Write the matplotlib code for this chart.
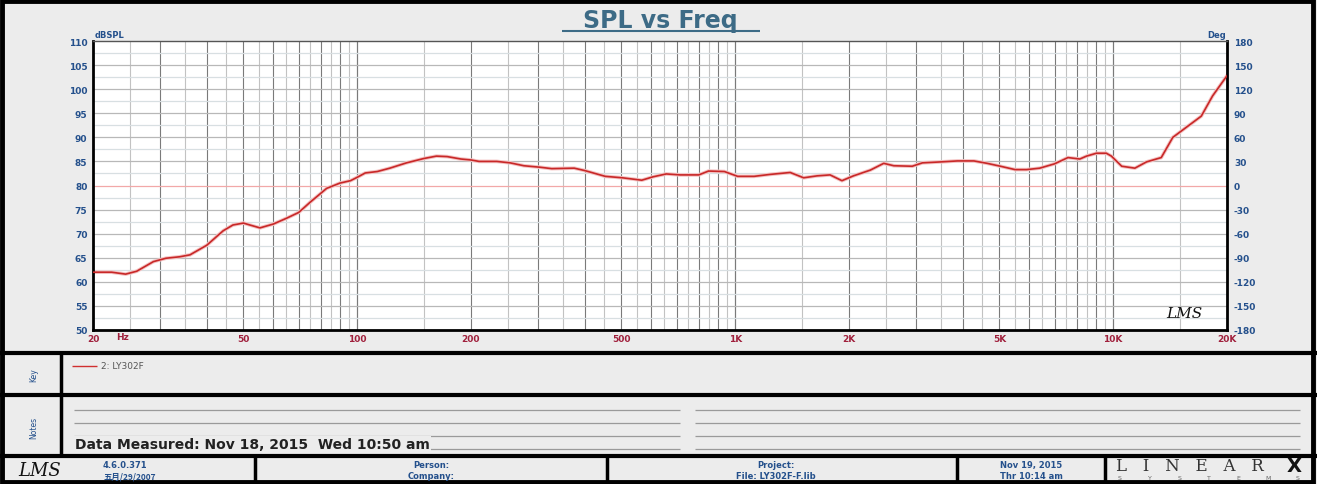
import numpy as np
import matplotlib.pyplot as plt
from matplotlib.patches import Rectangle

# SPL curve (Hz, dBSPL)
freq = [20, 22.4, 24.4, 26.1, 28.9, 31.2, 33.9, 36.1, 40, 44.2, 46.9, 50, 52, 55.3,
        60, 65, 70, 75, 83, 90, 96, 100, 105, 113, 122, 135, 150, 162, 173, 188,
        200, 210, 234, 254, 276, 304, 327, 375, 400, 453, 503, 566, 606, 657, 715,
        801, 850, 936, 1015, 1122, 1236, 1398, 1517, 1646, 1782, 1916, 2055, 2278,
        2471, 2628, 2940, 3127, 3498, 3870, 4280, 4640, 5030, 5500, 5900, 6390,
        6995, 7590, 8160, 8500, 9030, 9590, 9890, 10530, 11410, 12250, 13400,
        14380, 15620, 17100, 18320, 20000]
spl = [62.0, 62.0, 61.6, 62.2, 64.2, 64.9, 65.2, 65.6, 67.6, 70.6, 71.8, 72.2, 71.8, 71.2,
       72.0, 73.2, 74.4, 76.5, 79.4, 80.5, 81.0, 81.7, 82.6, 82.9, 83.6, 84.7, 85.6, 86.1,
       86.0, 85.5, 85.3, 85.0, 85.0, 84.7, 84.1, 83.8, 83.5, 83.6, 83.1, 81.9, 81.6, 81.1,
       81.8, 82.4, 82.2, 82.2, 83.0, 82.9, 81.9, 81.9, 82.3, 82.7, 81.6, 82.0, 82.2, 81.0,
       82.0, 83.2, 84.6, 84.1, 84.0, 84.7, 84.9, 85.1, 85.1, 84.6, 84.0, 83.3, 83.3, 83.6,
       84.5, 85.8, 85.5, 86.1, 86.7, 86.7, 86.1, 84.0, 83.6, 84.9, 85.8, 90.0, 92.1, 94.4,
       98.6, 102.8]

x_ticks = [20, 50, 100, 200, 500, 1000, 2000, 5000, 10000, 20000]
x_labels = ["20", "50", "100", "200", "500", "1K", "2K", "5K", "10K", "20K"]
db_ticks = list(range(50, 111, 5))
deg_ticks = list(range(-180, 181, 30))

W, H = 1317, 485
blue = "#24508c"
tick_red = "#a0203c"
panel = "#ececec"

fig = plt.figure(figsize=(W / 100, H / 100), dpi=100)
fig.patch.set_facecolor(panel)

# full-figure axes in pixel coords for the frame / panels
bg = fig.add_axes([0, 0, 1, 1], zorder=0)
bg.set_xlim(0, W)
bg.set_ylim(H, 0)
bg.axis("off")

def hline(y, x0, x1, **kw):
    bg.plot([x0, x1], [y, y], solid_capstyle="butt", **kw)

def vline(x, y0, y1, **kw):
    bg.plot([x, x], [y0, y1], solid_capstyle="butt", **kw)

# outer frame and separators
bg.add_patch(Rectangle((2, 2), W - 6, H - 4, fill=False, lw=3.5, ec="black"))
hline(354, 0, W, color="black", lw=3)
hline(396, 0, W, color="black", lw=3)
hline(457, 0, W, color="black", lw=3)
vline(61, 354, 457, color="black", lw=2.5)
for xd in [255, 607, 957, 1105]:
    vline(xd, 457, H, color="black", lw=2.5)

# title
bg.text(660, 21, "SPL vs Freq", ha="center", va="center", fontsize=17,
        weight="bold", color="#3d6b86")
hline(32, 562, 760, color="#3d6b86", lw=1.5)

bg.text(95, 35, "dBSPL", ha="left", va="center", fontsize=6, weight="bold", color=blue)
bg.text(1226, 35, "Deg", ha="right", va="center", fontsize=6, weight="bold", color=blue)
bg.text(116, 338, "Hz", ha="left", va="center", fontsize=6.5, weight="bold", color=tick_red)

# main plot
ax = fig.add_axes([93 / W, (H - 331) / H, (1227 - 93) / W, (331 - 42) / H], zorder=1)
ax.set_facecolor("white")
ax.set_xscale("log")
ax.set_xlim(20, 20000)
ax.set_ylim(50, 110)

for dec in [10, 100, 1000, 10000]:
    for k in range(2, 21):
        f = k * dec / 2
        if 20 < f < 20000:
            ax.axvline(f, color="#7a7a7a" if k % 2 == 0 else "#c2c2c2", lw=0.8, zorder=1)
for v in np.arange(52.5, 110, 2.5):
    if abs(v - 80) < 0.01:
        c = "#f2a8a8"
    elif v % 5 == 0:
        c = "#b8b8b8"
    else:
        c = "#d8dfe2"
    ax.axhline(v, color=c, lw=0.9, zorder=1)

ax.plot(freq, spl, color="#f4c2c2", lw=2.6, zorder=2, solid_joinstyle="round")
ax.plot(freq, spl, color="#c82828", lw=1.2, zorder=3, solid_joinstyle="round")

ax.set_xticks(x_ticks)
ax.set_xticklabels(x_labels)
ax.xaxis.set_minor_locator(plt.NullLocator())
ax.set_yticks(db_ticks)
ax.set_yticklabels([str(v) for v in db_ticks])
ax.tick_params(axis="x", length=0, pad=3, labelsize=6.5, labelcolor=tick_red)
ax.tick_params(axis="y", length=0, pad=4, labelsize=6.5, labelcolor=blue)
for lab in ax.get_xticklabels() + ax.get_yticklabels():
    lab.set_fontweight("bold")
for s in ["left", "bottom", "right"]:
    ax.spines[s].set_linewidth(2)
    ax.spines[s].set_color("black")
ax.spines["top"].set_linewidth(1)
ax.spines["top"].set_color("#555555")

ax2 = ax.twinx()
ax2.set_ylim(-180, 180)
ax2.set_yticks(deg_ticks)
ax2.set_yticklabels([str(v) for v in deg_ticks])
ax2.tick_params(axis="y", length=0, pad=5, labelsize=6.5, labelcolor=blue)
for lab in ax2.get_yticklabels():
    lab.set_fontweight("bold")
for s in ax2.spines.values():
    s.set_visible(False)

ax.text(0.978, 0.06, "LMS", transform=ax.transAxes, ha="right", va="center",
        fontsize=11, style="italic", color="#111111", family="DejaVu Serif")

# key panel
bg.text(34, 375, "Key", rotation=90, ha="center", va="center", fontsize=5.5, color=blue)
hline(367, 72, 97, color="#d03030", lw=1)
bg.text(101, 367, "2: LY302F", ha="left", va="center", fontsize=6.5, color="#555555")

# notes panel
bg.text(34, 428, "Notes", rotation=90, ha="center", va="center", fontsize=5.5, color=blue)
for yl in [411, 424, 437, 450]:
    hline(yl, 74, 680, color="#9a9a9a", lw=0.9)
    hline(yl, 695, 1300, color="#9a9a9a", lw=0.9)
bg.text(75, 445, "Data Measured: Nov 18, 2015  Wed 10:50 am", ha="left", va="center",
        fontsize=10, weight="bold", color="#222222",
        bbox=dict(boxstyle="square,pad=0.1", fc=panel, ec="none"))

# footer
bg.text(40, 471, "LMS", ha="center", va="center", fontsize=13, style="italic",
        color="#111111", family="DejaVu Serif")
bg.text(103, 466, "4.6.0.371", ha="left", va="center", fontsize=6, weight="bold", color=blue)
bg.text(103, 477, "五月/29/2007", ha="left", va="center", fontsize=6, weight="bold",
        color=blue, family=["Noto Sans CJK SC", "DejaVu Sans"])
bg.text(431, 466, "Person:", ha="center", va="center", fontsize=6, weight="bold", color=blue)
bg.text(431, 477, "Company:", ha="center", va="center", fontsize=6, weight="bold", color=blue)
bg.text(776, 466, "Project:", ha="center", va="center", fontsize=6, weight="bold", color=blue)
bg.text(776, 477, "File: LY302F-F.lib", ha="center", va="center", fontsize=6, weight="bold",
        color=blue)
bg.text(1031, 466, "Nov 19, 2015", ha="center", va="center", fontsize=6, weight="bold",
        color=blue)
bg.text(1031, 477, "Thr 10:14 am", ha="center", va="center", fontsize=6, weight="bold",
        color=blue)
bg.text(1116, 467, "L   I   N   E   A   R", ha="left", va="center", fontsize=12,
        family="DejaVu Serif", weight="light", color="#333333")
bg.text(1302, 467, "X", ha="right", va="center", fontsize=14, weight="bold", color="#111111")
for xs, ch in zip(np.linspace(1120, 1298, 7), "SYSTEMS"):
    bg.text(xs, 478.5, ch, ha="center", va="center", fontsize=4.5, color="#666666")

fig.savefig("out.png", dpi=100, facecolor=fig.get_facecolor())
